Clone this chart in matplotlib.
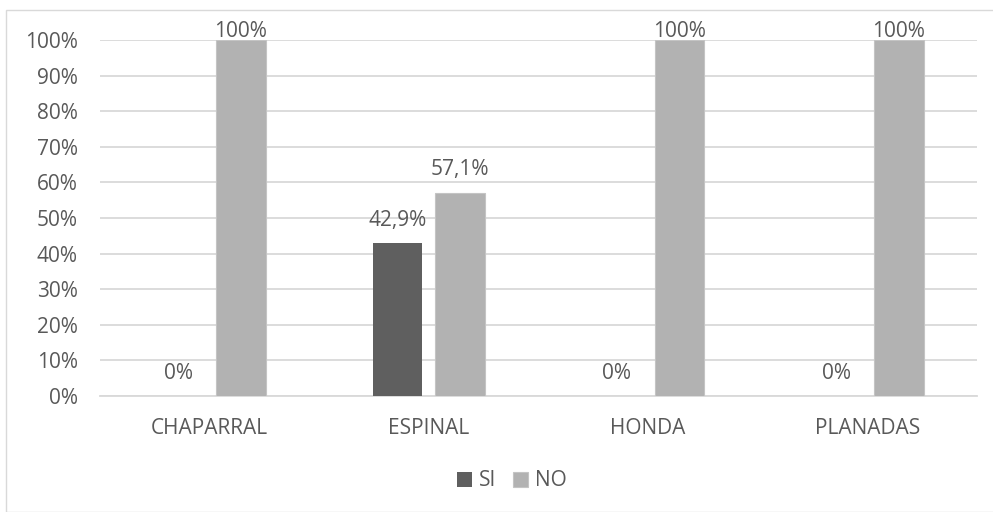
import matplotlib.pyplot as plt
import numpy as np
from matplotlib.patches import Rectangle

categories = ["CHAPARRAL", "ESPINAL", "HONDA", "PLANADAS"]
si_values = [0, 42.9, 0, 0]
no_values = [100, 57.1, 100, 100]
si_labels = ["0%", "42,9%", "0%", "0%"]
no_labels = ["100%", "57,1%", "100%", "100%"]
y_ticks = list(range(0, 101, 10))

text_color = "#595959"
plt.rcParams['font.family'] = ['Open Sans', 'DejaVu Sans']
fs = 15

fig = plt.figure(figsize=(9.93, 5.12), dpi=100)
ax = fig.add_axes([100 / 993, 1 - 396 / 512, 877 / 993, 356 / 512])

x = np.arange(len(categories))
w = 0.227
off = 0.143
bars_si = ax.bar(x - off, si_values, w, color="#5f5f5f", label="SI", zorder=3)
bars_no = ax.bar(x + off, no_values, w, color="#b2b2b2", edgecolor="#c4c4c4",
                 linewidth=0.8, label="NO", zorder=3)

# data labels, baseline a fixed distance above the bar
for bars, labels in [(bars_si, si_labels), (bars_no, no_labels)]:
    for b, lab in zip(bars, labels):
        h = b.get_height()
        dy = 2 if h >= 100 else 12.5
        ax.annotate(lab, (b.get_x() + b.get_width() / 2, h), xytext=(0, dy),
                    textcoords="offset points", ha="center", va="baseline",
                    fontsize=fs, color=text_color, annotation_clip=False)

ax.set_xlim(-0.5, len(categories) - 0.5)
ax.set_ylim(0, 100)
ax.set_yticks(y_ticks)
ax.set_yticklabels([f"{t}%" for t in y_ticks])
ax.set_xticks(x)
ax.set_xticklabels(categories)
ax.tick_params(axis="both", length=0, labelsize=fs, colors=text_color)
ax.tick_params(axis="y", pad=16)
ax.tick_params(axis="x", pad=16)
ax.grid(axis="y", color="#d9d9d9", linewidth=1.3, zorder=0)
for s in ["top", "right", "left"]:
    ax.spines[s].set_visible(False)
ax.spines["bottom"].set_color("#d9d9d9")
ax.spines["bottom"].set_linewidth(1.3)

fig.legend(loc="center", bbox_to_anchor=(512 / 993, 1 - 481 / 512), ncol=2, frameon=False,
           fontsize=fs, labelcolor=text_color, handlelength=0.7, handleheight=0.7,
           handletextpad=0.35, columnspacing=0.8)

fig.patches.append(Rectangle((6 / 993, 0), 1.0, 1 - 10 / 512, transform=fig.transFigure,
                             fill=False, edgecolor="#d9d9d9", linewidth=1))

fig.savefig("out.png", dpi=100)
